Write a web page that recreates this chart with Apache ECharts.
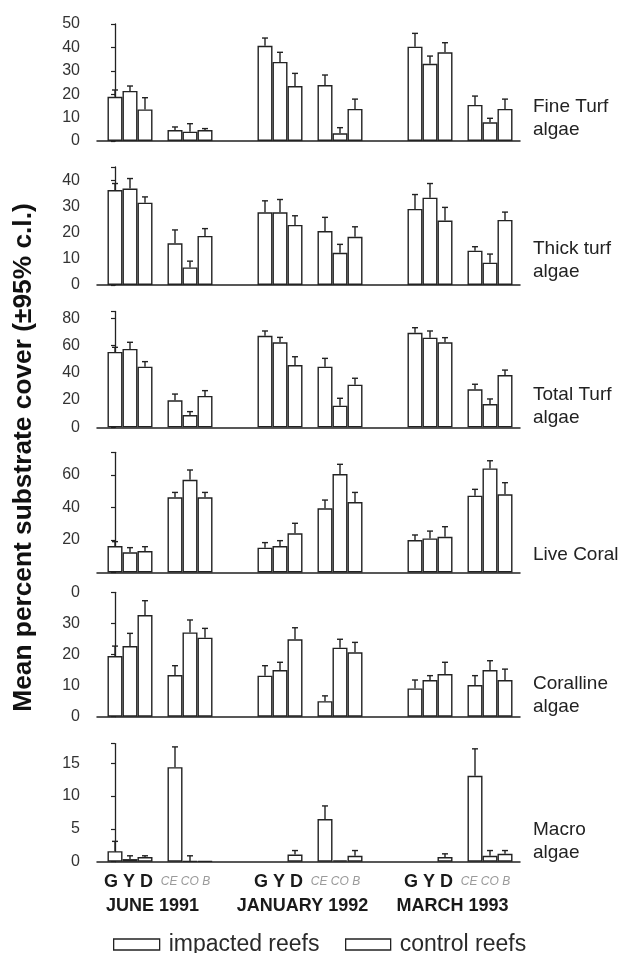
<!DOCTYPE html>
<html><head><meta charset="utf-8">
<script src="https://cdn.jsdelivr.net/npm/echarts@6/dist/echarts.min.js"></script>
<style>html,body{margin:0;padding:0;background:#fff}#c{width:622px;height:953px}</style>
</head><body><div id="c"></div>
<script>
// ---------- categories ----------
const months = ['JUNE 1991', 'JANUARY 1992', 'MARCH 1993'];
const impSites = ['G', 'Y', 'D'];
const ctlSites = ['CE', 'CO', 'B'];
const panelNames = ['Fine Turf\nalgae', 'Thick turf\nalgae', 'Total Turf\nalgae', 'Live Coral', 'Coralline\nalgae', 'Macro\nalgae'];

// ---------- values (order: June G,Y,D | Jan G,Y,D | Mar G,Y,D), err = upper 95% c.l. minus mean ----------
const fineImp    = [18.9, 21.4, 13.5, 40.7, 33.8, 23.5, 40.3, 33.0, 37.9];
const fineImpErr = [2.9, 2.1, 5.0, 3.3, 4.1, 5.4, 5.7, 3.3, 4.1];
const fineCtl    = [4.7, 4.0, 4.7, 23.9, 3.3, 13.7, 15.4, 8.0, 13.7];
const fineCtlErr = [1.3, 3.4, 0.6, 4.3, 2.4, 4.2, 3.8, 1.7, 4.2];

const thickImp    = [36.2, 36.8, 31.4, 27.7, 27.7, 22.9, 29.0, 33.3, 24.6];
const thickImpErr = [2.5, 3.8, 2.2, 4.4, 4.9, 3.5, 5.5, 5.4, 5.0];
const thickCtl    = [15.9, 6.7, 18.7, 20.6, 12.3, 18.4, 13.1, 8.5, 24.8];
const thickCtlErr = [5.1, 2.4, 2.8, 5.2, 3.2, 3.8, 1.5, 3.3, 3.0];

const totalImp    = [55.3, 57.5, 44.5, 67.2, 62.4, 45.7, 69.4, 65.8, 62.4];
const totalImpErr = [3.4, 4.9, 3.7, 3.5, 3.6, 6.1, 3.7, 4.9, 3.4];
const totalCtl    = [19.8, 9.0, 23.0, 44.5, 15.9, 31.3, 27.9, 17.1, 38.4];
const totalCtlErr = [4.6, 2.5, 3.9, 6.1, 5.4, 4.7, 3.7, 3.7, 3.6];

const coralImp    = [16.3, 12.4, 13.2, 15.3, 16.3, 24.1, 20.0, 21.0, 22.0];
const coralImpErr = [2.7, 2.9, 2.7, 3.1, 3.3, 6.2, 3.1, 4.5, 6.2];
const coralCtl    = [46.3, 57.1, 46.3, 39.5, 60.6, 43.4, 47.3, 64.1, 48.1];
const coralCtlErr = [3.0, 6.0, 3.0, 5.1, 6.0, 5.9, 3.9, 4.7, 7.2];

const cllnImp    = [19.5, 22.7, 32.7, 13.2, 15.0, 24.9, 9.1, 11.8, 13.7];
const cllnImpErr = [3.2, 4.1, 4.6, 3.2, 2.5, 3.7, 2.7, 1.4, 3.8];
const cllnCtl    = [13.4, 27.1, 25.4, 5.0, 22.2, 20.7, 10.2, 15.0, 11.8];
const cllnCtlErr = [3.0, 4.0, 3.0, 1.7, 2.7, 3.2, 3.0, 3.0, 3.5];

const macroImp    = [1.6, 0.4, 0.7, null, null, 1.1, null, null, 0.7];
const macroImpErr = [1.5, 0.5, 0.2, null, null, 0.6, null, null, 0.5];
const macroCtl    = [14.4, 0.1, 0.1, 6.5, 0.2, 0.9, 13.1, 0.9, 1.2];
const macroCtlErr = [3.1, 0.8, 0, 2.0, 0, 0.8, 4.1, 0.8, 0.5];

// ---------- tick labels ----------
const fineTicks  = ['0', '10', '20', '30', '40', '50'];
const thickTicks = ['0', '10', '20', '30', '40'];
const totalTicks = ['0', '20', '40', '60', '80'];
const coralTicks = ['', '20', '40', '60'];
const cllnTicks  = ['0', '10', '20', '30', '0'];
const macroTicks = ['0', '5', '10', '15'];

const legendNames = ['impacted reefs', 'control reefs'];

// ---------- layout (not data) ----------
const panelData = [
  [fineImp, fineImpErr, fineCtl, fineCtlErr, fineTicks],
  [thickImp, thickImpErr, thickCtl, thickCtlErr, thickTicks],
  [totalImp, totalImpErr, totalCtl, totalCtlErr, totalTicks],
  [coralImp, coralImpErr, coralCtl, coralCtlErr, coralTicks],
  [cllnImp, cllnImpErr, cllnCtl, cllnCtlErr, cllnTicks],
  [macroImp, macroImpErr, macroCtl, macroCtlErr, macroTicks]
];
const axisMax = [50, 45, 85, 74, 40, 18];
const axisInterval = [10, 10, 20, 20, 10, 5];
const gridTop = [24, 167, 311.5, 452.3, 592.3, 743.6];
const gridHeight = [117, 118, 115.8, 120.2, 124.4, 118.1];
const labelY = [118, 260, 406, 555, 695, 841];
const X_MIN = -1.2, X_MAX = 27;
const FONT = '"Liberation Sans", Arial, Helvetica, sans-serif';
const INK = '#222';

function slot(k, ctl) { return Math.floor(k / 3) * 10 + (ctl ? 4 : 0) + (k % 3); }

const grids = [], xAxes = [], yAxes = [], series = [], graphics = [];

panelData.forEach((pd, p) => {
  const [imp, impErr, ctl, ctlErr, ticks] = pd;
  grids.push({ left: 97, width: 423, top: gridTop[p], height: gridHeight[p] });
  xAxes.push({
    type: 'value', gridIndex: p, min: X_MIN, max: X_MAX,
    axisLine: { show: true, onZero: false, lineStyle: { color: INK, width: 1.5 } },
    axisTick: { show: false }, splitLine: { show: false },
    axisLabel: { show: false }
  });
  const iv = axisInterval[p];
  yAxes.push({
    type: 'value', gridIndex: p, min: 0, max: axisMax[p], interval: iv,
    axisLine: { show: true, lineStyle: { color: INK, width: 1.3 } },
    axisTick: { show: true, length: 4, lineStyle: { color: INK, width: 1.2 } },
    splitLine: { show: false },
    axisLabel: {
      margin: 17, color: '#333', fontSize: 16, fontFamily: FONT,
      formatter: v => {
        const i = Math.round(v / iv);
        if (Math.abs(v - i * iv) > 1e-6) return '';
        return ticks[i] !== undefined ? ticks[i] : '';
      }
    }
  });
  const mk = (vals, ctlFlag) => vals.map((v, k) => v == null ? null : [slot(k, ctlFlag), v]).filter(d => d);
  const mkErr = (vals, errs, ctlFlag) => vals.map((v, k) => (v == null || !errs[k]) ? null : [slot(k, ctlFlag), v, errs[k]]).filter(d => d);
  const barStyle = { color: '#fff', borderColor: INK, borderWidth: 1.4 };
  series.push({
    name: legendNames[0], type: 'bar', xAxisIndex: p, yAxisIndex: p,
    barWidth: 15, barGap: '-100%', data: mk(imp, false), itemStyle: barStyle, silent: true, z: 2
  });
  series.push({
    name: legendNames[1], type: 'bar', xAxisIndex: p, yAxisIndex: p,
    barWidth: 15, barGap: '-100%', data: mk(ctl, true), itemStyle: barStyle, silent: true, z: 2
  });
  const errData = mkErr(imp, impErr, false).concat(mkErr(ctl, ctlErr, true));
  series.push({
    type: 'custom', xAxisIndex: p, yAxisIndex: p, silent: true, z: 3,
    data: errData,
    renderItem: (params, api) => {
      const x = api.value(0), y = api.value(1), e = api.value(2);
      const b = api.coord([x, y]);
      const t = api.coord([x, y + e]);
      const st = { stroke: INK, lineWidth: 1.4 };
      return {
        type: 'group', children: [
          { type: 'line', shape: { x1: b[0], y1: b[1], x2: t[0], y2: t[1] }, style: st },
          { type: 'line', shape: { x1: t[0] - 3, y1: t[1], x2: t[0] + 3, y2: t[1] }, style: st }
        ]
      };
    }
  });
  graphics.push({
    type: 'text', left: 533, top: labelY[p] - (panelNames[p].includes('\n') ? 23 : 11.5),
    style: { text: panelNames[p], font: '19px ' + FONT, fill: '#222', lineHeight: 23 }
  });
});

// bottom axis labels (sites and months)
const siteLabelPos = [], monthLabelPos = [];
months.forEach((m, i) => { siteLabelPos.push(i * 10 + 0.9, i * 10 + 4.7); monthLabelPos.push(i * 10 + 2.5); });
xAxes[5].axisLabel = {
  show: true, customValues: siteLabelPos, margin: 11,
  formatter: (v) => {
    const r = v - Math.floor(v / 10) * 10;
    return r < 3 ? '{imp|' + impSites.join(' ') + '}' : '{ctl|' + ctlSites.join(' ') + '}';
  },
  rich: {
    imp: { fontSize: 18, fontWeight: 'bold', color: '#1a1a1a', fontFamily: FONT, lineHeight: 18 },
    ctl: { fontSize: 12, fontStyle: 'italic', color: '#9a9a9a', fontFamily: FONT, lineHeight: 18 }
  }
};
xAxes.push({
  type: 'value', gridIndex: 5, min: X_MIN, max: X_MAX, position: 'bottom',
  axisLine: { show: false }, axisTick: { show: false }, splitLine: { show: false },
  axisLabel: {
    show: true, customValues: monthLabelPos, margin: 35,
    fontSize: 18, fontWeight: 'bold', color: '#1a1a1a', fontFamily: FONT,
    formatter: v => months[Math.round((v - 2.5) / 10)]
  }
});

graphics.push({
  type: 'text', x: 24, y: 457.5, rotation: Math.PI / 2,
  style: {
    text: 'Mean percent substrate cover (±95% c.l.)',
    font: 'bold 26.3px ' + FONT, fill: '#111', align: 'center', verticalAlign: 'middle'
  }
});

const legendBase = {
  orient: 'horizontal', padding: 0, icon: 'rect', selectedMode: false,
  itemHeight: 11, textStyle: { fontSize: 23, color: '#2a2a2a', fontFamily: FONT, padding: [0, 0, 0, 4] },
  itemStyle: { color: '#fff', borderColor: INK, borderWidth: 1.3 }
};

const option = {
  animation: false,
  backgroundColor: '#fff',
  grid: grids, xAxis: xAxes, yAxis: yAxes, series: series,
  legend: [
    Object.assign({}, legendBase, { data: [legendNames[0]], left: 113, top: 933, itemWidth: 46 }),
    Object.assign({}, legendBase, { data: [legendNames[1]], left: 345, top: 933, itemWidth: 45 })
  ],
  graphic: graphics
};

const chart = echarts.init(document.getElementById('c'), null, { renderer: 'canvas' });
chart.setOption(option);
</script>
</body></html>
